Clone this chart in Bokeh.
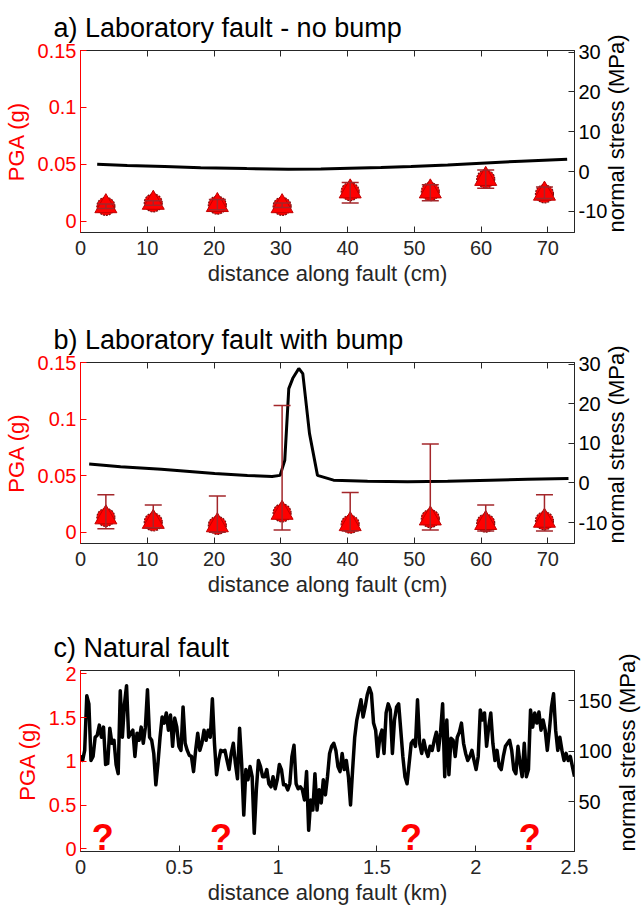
import math
import numpy as np
from bokeh.plotting import figure
from bokeh.models import (Range1d, LinearAxis, FixedTicker, Whisker, ColumnDataSource,
                          TeeHead)
from bokeh.layouts import column
from bokeh.embed import file_html
from bokeh.resources import INLINE
from bokeh.core.properties import value

FONT = "Liberation Sans"
RED = "#FF0000"
DARK = "#262626"
ERR = "#A3262A"

# ---------------- data ----------------
marker_x_cm = [3.8, 10.9, 20.5, 30.2, 40.4, 52.4, 60.7, 69.5]

a_pga = [0.013, 0.016, 0.014, 0.013, 0.026, 0.026, 0.037, 0.024]
a_err_low = [0.011, 0.014, 0.010, 0.012, 0.016, 0.018, 0.029, 0.020]
a_err_high = [0.015, 0.018, 0.019, 0.016, 0.034, 0.032, 0.045, 0.030]

a_stress_x = [2.5, 7, 12.6, 18, 24.9, 31.1, 36, 40.3, 45, 49.5, 55, 60, 66, 72.9]
a_stress = [1.84, 1.5, 1.25, 0.95, 0.75, 0.6, 0.65, 0.85, 1.0, 1.25, 1.65, 2.1, 2.6, 3.1]

b_pga = [0.013, 0.009, 0.006, 0.017, 0.007, 0.012, 0.008, 0.010]
b_err_low = [0.003, 0.004, 0.000, 0.002, 0.001, 0.002, 0.001, 0.001]
b_err_high = [0.033, 0.024, 0.032, 0.112, 0.035, 0.078, 0.024, 0.033]

b_stress_x = [1.3, 6, 12.1, 20.1, 25, 28.7, 29.9, 30.6, 31.2, 31.8, 32.7, 33.3, 34.3,
              35.5, 37.9, 43, 49, 55, 61.4, 67, 73.1]
b_stress = [4.8, 4.1, 3.45, 2.36, 1.9, 1.6, 1.9, 5.7, 23.8, 26.4, 28.9, 27.6, 12.5,
            1.9, 0.7, 0.4, 0.3, 0.4, 0.7, 0.9, 1.1]

# natural fault: normal stress (MPa) sampled evenly along 0-2.5 km
c_stress = [96, 91, 101, 155, 147, 91, 95, 114, 116, 126, 114, 124, 87, 88, 123, 108,
            111, 87, 78, 160, 114, 147, 165, 114, 118, 121, 95, 118, 111, 124, 108, 124,
            161, 114, 111, 98, 67, 88, 114, 134, 128, 138, 121, 136, 105, 133, 124, 105,
            101, 144, 108, 101, 96, 95, 80, 101, 118, 101, 108, 121, 111, 121, 114, 152,
            108, 77, 91, 101, 100, 101, 91, 82, 98, 108, 88, 73, 123, 88, 37, 82, 72, 85,
            75, 19, 62, 91, 85, 75, 75, 82, 68, 65, 75, 63, 72, 87, 82, 67, 67, 62, 68,
            95, 106, 68, 63, 65, 62, 52, 80, 22, 52, 42, 78, 42, 62, 49, 72, 57, 75, 98,
            105, 108, 101, 85, 80, 98, 82, 91, 75, 47, 82, 114, 131, 141, 151, 134, 144,
            156, 163, 157, 128, 121, 95, 114, 121, 98, 138, 147, 141, 98, 131, 144, 147,
            121, 95, 75, 68, 88, 108, 111, 105, 151, 108, 98, 111, 101, 95, 105, 101, 111,
            119, 101, 119, 147, 75, 131, 77, 113, 111, 95, 114, 119, 128, 108, 98, 91, 95,
            101, 91, 82, 95, 141, 131, 138, 105, 124, 138, 108, 91, 101, 85, 82, 95, 105,
            108, 111, 101, 82, 78, 105, 88, 75, 108, 75, 82, 141, 124, 138, 128, 139, 121,
            131, 121, 101, 121, 144, 157, 121, 101, 114, 101, 91, 98, 91, 95, 85, 75]
c_dist_km = np.linspace(0.0, 2.5, len(c_stress))

q_x_km = [0.112, 0.711, 1.672, 2.273]
q_y = [0.13, 0.13, 0.13, 0.13]
q_text = ["?", "?", "?", "?"]

# ticks
x_ticks_cm = [0, 10, 20, 30, 40, 50, 60, 70]
pga_ticks_ab = [0, 0.05, 0.1, 0.15]
pga_labels_ab = ["0", "0.05", "0.1", "0.15"]
stress_ticks_ab = [-10, 0, 10, 20, 30]
stress_labels_ab = ["-10", "0", "10", "20", "30"]
x_ticks_km = [0, 0.5, 1, 1.5, 2, 2.5]
x_labels_km = ["0", "0.5", "1", "1.5", "2", "2.5"]
pga_ticks_c = [0, 0.5, 1, 1.5, 2]
pga_labels_c = ["0", "0.5", "1", "1.5", "2"]
stress_ticks_c = [0, 50, 100, 150]

FRAME_W = 494


def style_axis(ax, color, ticks, labels=None):
    ax.ticker = FixedTicker(ticks=ticks)
    if labels is not None:
        ax.major_label_overrides = {t: l for t, l in zip(ticks, labels)}
    ax.axis_line_color = color
    ax.axis_line_width = 1
    ax.major_tick_line_color = color
    ax.minor_tick_line_color = None
    ax.major_tick_in = 6
    ax.major_tick_out = 0
    ax.major_label_text_color = color
    ax.major_label_text_font = FONT
    ax.major_label_text_font_size = "20px"
    ax.axis_label_text_color = color
    ax.axis_label_text_font = FONT
    ax.axis_label_text_font_size = "22px"
    ax.axis_label_text_font_style = "normal"


def make_panel(title, xr, yl, yr, frame_h, top_b, bottom_b, xlabel, xticks, xlabels,
               lticks, llabels, rticks, rlabels, r_standoff=6):
    p = figure(frame_width=FRAME_W, frame_height=frame_h, x_range=Range1d(*xr),
               y_range=Range1d(*yl), output_backend="svg", toolbar_location=None,
               min_border_left=73, min_border_right=61, min_border_top=top_b,
               min_border_bottom=bottom_b)
    p.extra_y_ranges = {"stress": Range1d(*yr)}
    p.grid.grid_line_color = None
    p.outline_line_color = DARK
    p.outline_line_width = 1
    p.background_fill_color = "white"
    p.border_fill_color = "white"

    p.title.text = title
    p.title.text_font = FONT
    p.title.text_font_size = "27px"
    p.title.text_font_style = "normal"
    p.title.text_color = "black"
    p.title.align = "left"
    p.title.offset = -27
    p.title.standoff = 16

    xa = p.xaxis[0]
    style_axis(xa, DARK, xticks, xlabels)
    xa.axis_label = xlabel
    xa.major_label_standoff = 8
    xa.axis_label_standoff = 3

    ya = p.yaxis[0]
    style_axis(ya, RED, lticks, llabels)
    ya.axis_label = "PGA (g)"
    ya.major_label_standoff = 4
    ya.axis_label_standoff = 6

    ra = LinearAxis(y_range_name="stress")
    style_axis(ra, DARK, rticks, rlabels)
    ra.major_label_text_color = "black"
    ra.axis_label_text_color = "black"
    ra.major_label_standoff = 4
    ra.axis_label_standoff = r_standoff
    ra.axis_label = "normal stress (MPa)"
    ra.axis_label_orientation = math.pi / 2
    try:
        ra.axis_label_align = "start"
    except Exception:
        pass
    p.add_layout(ra, "right")

    ta = LinearAxis()
    style_axis(ta, DARK, xticks)
    ta.major_label_text_font_size = "1px"
    ta.major_label_text_color = None
    ta.major_label_standoff = 0
    p.add_layout(ta, "above")
    return p


def add_markers(p, pga, lo, hi, stress_x, stress):
    src = ColumnDataSource(dict(x=marker_x_cm, y=pga, lo=lo, hi=hi))
    p.line(stress_x, stress, y_range_name="stress", line_color="black", line_width=3)
    p.scatter("x", "y", source=src, marker="circle", size=18, fill_color=RED,
              line_color="#7A1010", line_width=1.2, line_dash="2 1")
    p.scatter("x", "y", source=src, marker="triangle", size=22, fill_color=RED,
              line_color="#C00000", line_width=1)
    w = Whisker(source=src, base="x", lower="lo", upper="hi", line_color=ERR, line_width=1.5,
                upper_head=TeeHead(size=17, line_color=ERR, line_width=1.5),
                lower_head=TeeHead(size=17, line_color=ERR, line_width=1.5))
    w.level = "overlay"
    p.add_layout(w)


pa = make_panel("a) Laboratory fault - no bump", (0, 74), (-0.01, 0.15), (-15.3, 30.4),
                182, 50, 64, "distance along fault (cm)", x_ticks_cm, None,
                pga_ticks_ab, pga_labels_ab, stress_ticks_ab, stress_labels_ab)
add_markers(pa, a_pga, a_err_low, a_err_high, a_stress_x, a_stress)

pb = make_panel("b) Laboratory fault with bump", (0, 74), (-0.01, 0.15), (-15.3, 30.4),
                181, 66, 64, "distance along fault (cm)", x_ticks_cm, None,
                pga_ticks_ab, pga_labels_ab, stress_ticks_ab, stress_labels_ab)
add_markers(pb, b_pga, b_err_low, b_err_high, b_stress_x, b_stress)

pc = make_panel("c) Natural fault", (0, 2.5), (-0.03, 2.04), (1, 180),
                181, 63, 50, "distance along fault (km)", x_ticks_km, x_labels_km,
                pga_ticks_c, pga_labels_c, stress_ticks_c, None, r_standoff=13)
pc.line(c_dist_km, c_stress, y_range_name="stress", line_color="black", line_width=3.5,
        line_join="round")
pc.text(x=q_x_km, y=q_y, text=q_text, text_color=RED, text_font=value(FONT),
        text_font_size="36px", text_font_style="bold", text_align="center",
        text_baseline="alphabetic")

layout = column(pa, pb, pc, spacing=0)
open("out.html", "w").write(file_html(layout, INLINE))
